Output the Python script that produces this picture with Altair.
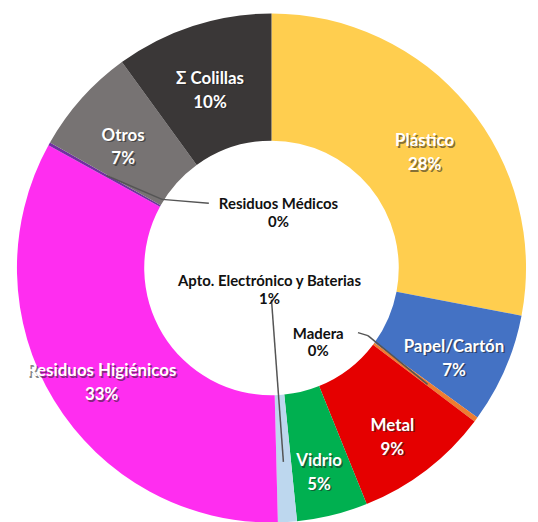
import altair as alt
import pandas as pd

categories = ["Plástico", "Papel/Cartón", "Madera", "Metal", "Vidrio",
              "Apto. Electrónico y Baterias", "Residuos Higiénicos",
              "Residuos Médicos", "Otros", "Σ Colillas"]
values = [28.0, 7.0, 0.3, 8.6, 4.5, 1.2, 33.4, 0.2, 6.8, 10.0]
pct_labels = ["28%", "7%", "0%", "9%", "5%", "1%", "33%", "0%", "7%", "10%"]
colors = ["#FFCE4F", "#4472C4", "#ED7D31", "#E50000", "#00B050",
          "#BDD7EE", "#FF2DF0", "#7030A0", "#777373", "#3A3737"]
inner_set = ["Madera", "Apto. Electrónico y Baterias", "Residuos Médicos"]

df = pd.DataFrame({
    "idx": list(range(len(categories))),
    "category": categories,
    "value": values,
    "pct": pct_labels,
})
df["label"] = df["category"] + "\n" + df["pct"]
df["slice_text"] = [l if c not in inner_set else "" for c, l in zip(df["category"], df["label"])]

FONT = "Lato"
OX, OY = 13, 18  # page offset of the view origin


def px(x):
    return x - OX


def py(y):
    return y - OY


base = alt.Chart(df).encode(
    theta=alt.Theta("value:Q", stack=True),
    order=alt.Order("idx:Q"),
)

arcs = base.mark_arc(innerRadius=128, outerRadius=256, strokeWidth=0).encode(
    color=alt.Color("category:N", scale=alt.Scale(domain=categories, range=colors), legend=None)
)

shadow = base.mark_text(radius=200, font=FONT, fontWeight="bold", fontSize=17,
                        lineBreak="\n", lineHeight=24, color="#222222", opacity=0.55,
                        dx=1.5, dy=1.5, baseline="middle").encode(text="slice_text:N")
labels = base.mark_text(radius=200, font=FONT, fontWeight="bold", fontSize=17,
                        lineBreak="\n", lineHeight=24, color="white",
                        baseline="middle").encode(text="slice_text:N")

layers = [arcs, shadow, labels]

# leader lines for labels placed in the hole
line_style = dict(color="#555555", strokeWidth=1.5)
leaders = {
    "Madera": [(360, 333), (370, 336), (430, 385)],
    "Residuos Médicos": [(210, 203), (163, 199), (107, 175)],
    "Apto. Electrónico y Baterias": [(273, 300), (285, 463)],
}
for cat, pts in leaders.items():
    for (x1, y1), (x2, y2) in zip(pts[:-1], pts[1:]):
        layers.append(
            alt.Chart(df).transform_filter(alt.datum.category == cat)
            .mark_rule(**line_style)
            .encode(x=alt.value(px(x1)), y=alt.value(py(y1)),
                    x2=alt.value(px(x2)), y2=alt.value(py(y2)))
        )

inner_pos = {
    "Residuos Médicos": (280, 204),
    "Apto. Electrónico y Baterias": (271, 281),
    "Madera": (320, 334),
}
for cat, (x, y) in inner_pos.items():
    layers.append(
        alt.Chart(df).transform_filter(alt.datum.category == cat)
        .mark_text(font=FONT, fontWeight="bold", fontSize=15, lineBreak="\n",
                   lineHeight=18, color="#111111", baseline="middle")
        .encode(x=alt.value(px(x)), y=alt.value(py(y)), text="label:N")
    )

chart = alt.layer(*layers).properties(
    width=520, height=500,
    padding={"left": 5, "top": 10, "right": 0, "bottom": 5},
    autosize=alt.AutoSizeParams(type="none"),
).configure_view(strokeWidth=0)

chart.save("out.html", embed_options={"renderer": "svg", "actions": False})
